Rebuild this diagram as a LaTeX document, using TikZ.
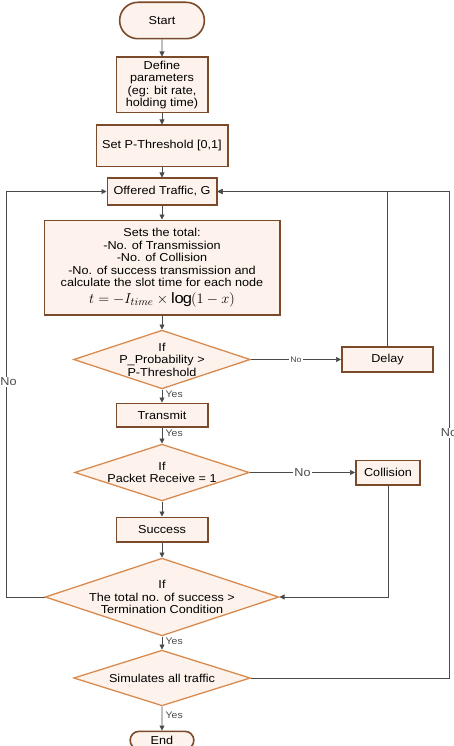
\documentclass[tikz,border=0pt]{standalone}
\usepackage{amsmath}
\usepackage{fontspec}
\setmainfont{Liberation Sans}[FakeStretch=1.1]
\usetikzlibrary{positioning,arrows.meta,shapes.misc,shapes.geometric,calc}
\definecolor{boxbrown}{HTML}{7B4A2A}
\definecolor{decorange}{HTML}{D98A4E}
\definecolor{boxfill}{HTML}{FDF3EC}
\definecolor{linegray}{HTML}{4A4A4A}
\tikzset{
    every node/.style = {
        font=\fontsize{11.5}{12.5}\selectfont,
        },
    terminal/.style = {
        rounded rectangle,
        draw = boxbrown,
        line width = 1.6pt,
        fill = boxfill,
        },
    process/.style = {
        rectangle,
        draw = boxbrown,
        line width = 1.6pt,
        fill = boxfill,
        align = center,
        inner sep = 2pt,
        },
    decision/.style = {
        diamond,
        aspect = 3,
        draw = decorange,
        line width = 1.3pt,
        fill = boxfill,
        align = center,
        inner sep = -6pt,
        },
    flow/.style = {
        draw = linegray,
        line width = 0.7pt,
        -{Triangle[length=5pt,width=5pt]},
        },
    yes label/.style = {
        right,
        font=\fontsize{9.5}{10}\selectfont,
        text = linegray,
        },
    no label/.style = {
        fill = white,
        inner sep = 1pt,
        text = linegray,
        },
}

\begin{document}
\begin{tikzpicture}[x=1pt,y=1pt]
    \useasboundingbox (0,0) rectangle (453,-746);

    \node[terminal, minimum width=91.4pt, minimum height=36.4pt] (start) at (162,-20.5) {Start};
    \node[process, below=17pt of start, minimum width=91.4pt, minimum height=55.4pt] (params)
        {Define\\parameters\\(eg: bit rate,\\holding time)};
    \node[process, below=11pt of params, minimum width=131.4pt, minimum height=41.4pt] (thresh)
        {Set P-Threshold [0,1]};
    \node[process, below=10pt of thresh, minimum width=109.4pt, minimum height=26.4pt] (traffic)
        {Offered Traffic, G};
    \node[process, below=14pt of traffic, minimum width=235.4pt, minimum height=94.4pt] (totals)
        {Sets the total:\\-No. of Transmission\\-No. of Collision\\-No. of success transmission and\\calculate the slot time for each node\\[4pt]
        {\fontsize{15}{15}\selectfont$t=-I_{time}\times\log(1-x)$}};
    \node[decision, below=14pt of totals, minimum width=176.7pt, minimum height=58.7pt] (prob)
        {If\\P\_Probability >\\P-Threshold};
    \node[process, right=90pt of prob, minimum width=91.4pt, minimum height=25.4pt] (delay) {Delay};
    \node[process, below=13pt of prob, minimum width=91.4pt, minimum height=23.4pt] (transmit) {Transmit};
    \node[decision, below=16pt of transmit, minimum width=174.7pt, minimum height=56.7pt] (receive)
        {If\\Packet Receive = 1};
    \node[process, right=105pt of receive, minimum width=64.4pt, minimum height=24.4pt] (collision) {Collision};
    \node[process, below=15pt of receive, minimum width=91.4pt, minimum height=24.4pt] (success) {Success};
    \node[decision, below=15pt of success, minimum width=233.7pt, minimum height=77.7pt] (term)
        {If\\The total no. of success >\\Termination Condition};
    \node[decision, below=13pt of term, minimum width=176.7pt, minimum height=55.7pt] (simall)
        {Simulates all traffic};
    \node[terminal, below=24pt of simall, minimum width=70.4pt, minimum height=18pt, inner ysep=1pt] (end) {End};

    % main column
    \draw[flow] (start) -- (params);
    \draw[flow] (params) -- (thresh);
    \draw[flow] (thresh) -- (traffic);
    \draw[flow] (traffic) -- (totals);
    \draw[flow] (totals) -- (prob);
    \draw[flow] (prob) -- node[yes label, pos=0.35] {Yes} (transmit);
    \draw[flow] (transmit) -- node[yes label, pos=0.35] {Yes} (receive);
    \draw[flow] (receive) -- (success);
    \draw[flow] (success) -- (term);
    \draw[flow] (term) -- node[yes label, pos=0.4] {Yes} (simall);
    \draw[flow] (simall) -- node[yes label, pos=0.35] {Yes} (end);

    % side branches
    \draw[flow] (prob.east) -- node[no label, font=\fontsize{8}{9}\selectfont, pos=0.5] {No} (delay.west);
    \draw[flow] (receive.east) -- node[no label, pos=0.5] {No} (collision.west);
    \draw[flow] (delay.north) |- (traffic.east);
    \draw[flow] (collision.south) |- (term.east);

    % loops back
    \draw[flow] (term.west) -- ++(-38,0) |- node[no label, pos=0.265, xshift=2pt] {No} (traffic.west);
    \draw[flow] (simall.east) -- ++(198,0) |- node[no label, pos=0.252] {No} (traffic.east);
\end{tikzpicture}
\end{document}
